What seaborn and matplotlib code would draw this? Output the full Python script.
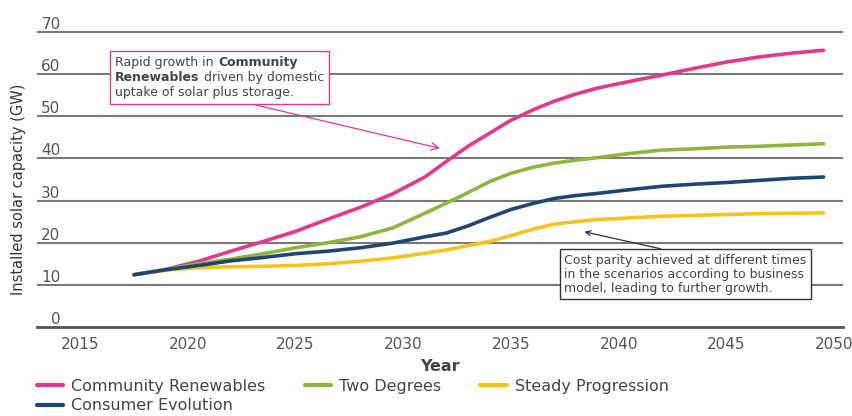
import pandas as pd
import matplotlib
matplotlib.use('Agg')
import matplotlib.pyplot as plt
from matplotlib.lines import Line2D
from matplotlib.offsetbox import TextArea, HPacker, VPacker, AnnotationBbox
import seaborn as sns

years = [2017.5, 2019, 2020.5, 2022, 2023.5, 2025, 2026.5, 2028, 2029.5, 2031,
         2032, 2033, 2034, 2035, 2036, 2037, 2038, 2039, 2040.5, 2042,
         2043.5, 2045, 2046.5, 2048, 2049.5]

community = [12.4, 13.7, 15.6, 18.0, 20.3, 22.7, 25.6, 28.4, 31.6, 35.6,
             39.3, 42.9, 46.0, 49.1, 51.5, 53.6, 55.3, 56.7, 58.3, 59.8,
             61.4, 62.9, 64.1, 65.0, 65.7]
two_degrees = [12.4, 13.7, 15.0, 16.1, 17.4, 18.8, 20.0, 21.4, 23.5, 27.0,
               29.4, 31.9, 34.5, 36.5, 37.9, 38.9, 39.6, 40.2, 41.2, 42.0,
               42.3, 42.7, 42.9, 43.2, 43.5]
consumer = [12.4, 13.6, 14.6, 15.7, 16.5, 17.4, 18.0, 18.8, 19.9, 21.4,
            22.3, 24.0, 26.0, 27.9, 29.3, 30.5, 31.2, 31.7, 32.6, 33.4,
            33.9, 34.3, 34.8, 35.3, 35.6]
steady = [12.4, 13.5, 14.1, 14.3, 14.4, 14.6, 15.0, 15.6, 16.4, 17.5,
          18.3, 19.3, 20.3, 21.7, 23.2, 24.4, 25.0, 25.5, 25.9, 26.3,
          26.5, 26.7, 26.9, 27.0, 27.1]

series_names = ['Community Renewables', 'Two Degrees', 'Steady Progression', 'Consumer Evolution']
colors = ['#e3388b', '#8cb63c', '#f6c31c', '#1e4675']

y_ticks = [0, 10, 20, 30, 40, 50, 60, 70]
x_ticks = [2015, 2020, 2025, 2030, 2035, 2040, 2045, 2050]

note_1 = [['Rapid growth in', 'Community'],
          ['Renewables', 'driven by domestic'],
          ['uptake of solar plus storage.']]
note_1_bold = [[False, True], [True, False], [False]]
note_2 = ('Cost parity achieved at different times\n'
          'in the scenarios according to business\n'
          'model, leading to further growth.')

df = pd.DataFrame({
    'Year': years * 4,
    'GW': community + two_degrees + steady + consumer,
    'Scenario': sum([[n] * len(years) for n in series_names], []),
})

sns.set_style('white')
plt.rcParams['font.family'] = ['DejaVu Sans']

fig = plt.figure(figsize=(8.52, 4.16), dpi=100)
ax = fig.add_axes([0.0434, 0.214, 0.946, 0.729])

palette = dict(zip(series_names, colors))
sns.lineplot(data=df, x='Year', y='GW', hue='Scenario', palette=palette,
             linewidth=2.6, legend=False, ax=ax)

ax.set_xlim(2013.0, 2050.4)
ax.set_ylim(0, 72)
ax.set_yticks(y_ticks)
ax.set_xticks(x_ticks)
for y in y_ticks[1:]:
    ax.axhline(y, color='#7a7a7a', lw=1.5, zorder=0)

for s in ['top', 'right', 'left']:
    ax.spines[s].set_visible(False)
ax.spines['bottom'].set_color('#555555')
ax.spines['bottom'].set_linewidth(2)

ax.tick_params(axis='y', length=0, pad=-17, labelsize=11, labelcolor='#555555')
for lab in ax.get_yticklabels():
    lab.set_horizontalalignment('right')
    lab.set_verticalalignment('bottom')
ax.tick_params(axis='x', direction='inout', length=6, width=1.5, color='#555555',
               pad=4, labelsize=11, labelcolor='#555555')

ax.set_ylabel('Installed solar capacity (GW)', fontsize=10.5, color='#333333')
ax.yaxis.set_label_coords(-0.014, 0.455)
ax.set_xlabel('Year', fontsize=11.5, fontweight='bold', color='#444444')
ax.xaxis.set_label_coords(0.5, -0.105)

# first note: mixed bold text, built from packed text pieces
rows = []
for parts, bolds in zip(note_1, note_1_bold):
    pieces = [TextArea(p, textprops=dict(fontsize=9, color='#444444',
                                         fontweight='bold' if b else 'normal'))
              for p, b in zip(parts, bolds)]
    rows.append(HPacker(children=pieces, align='baseline', pad=0, sep=3.5))
box_1 = VPacker(children=rows, align='left', pad=0, sep=1.5)
ab = AnnotationBbox(box_1, xy=(2031.7, 42.4), xybox=(2016.6, 64.4),
                    xycoords='data', boxcoords='data', box_alignment=(0, 1),
                    pad=0.35, frameon=True,
                    bboxprops=dict(boxstyle='square,pad=0.35', fc='white',
                                   ec='#e3388b', lw=1),
                    arrowprops=dict(arrowstyle='->', color='#e3388b', lw=0.9,
                                    relpos=(0.55, 0), shrinkA=0, shrinkB=0))
ax.add_artist(ab)

ax.annotate(note_2, xy=(2038.4, 22.6), xytext=(2037.45, 17.4),
            ha='left', va='top', fontsize=9, color='#444444', linespacing=1.1,
            bbox=dict(boxstyle='square,pad=0.35', fc='white', ec='#333333', lw=1),
            arrowprops=dict(arrowstyle='->', color='#333333', lw=0.9,
                            relpos=(0.49, 1), shrinkA=0, shrinkB=0))

handles = {n: Line2D([], [], color=c, lw=3) for n, c in zip(series_names, colors)}
order = ['Community Renewables', 'Consumer Evolution', 'Two Degrees', 'Steady Progression']
fig.legend([handles[n] for n in order], order, loc='upper left',
           bbox_to_anchor=(0.0434, 0.089), ncol=3, frameon=False, fontsize=11.5,
           handlelength=1.65, handletextpad=0.5, columnspacing=2.45,
           borderpad=0, borderaxespad=0, labelspacing=0.28, labelcolor='#444444')

fig.savefig('out.png', dpi=100)
